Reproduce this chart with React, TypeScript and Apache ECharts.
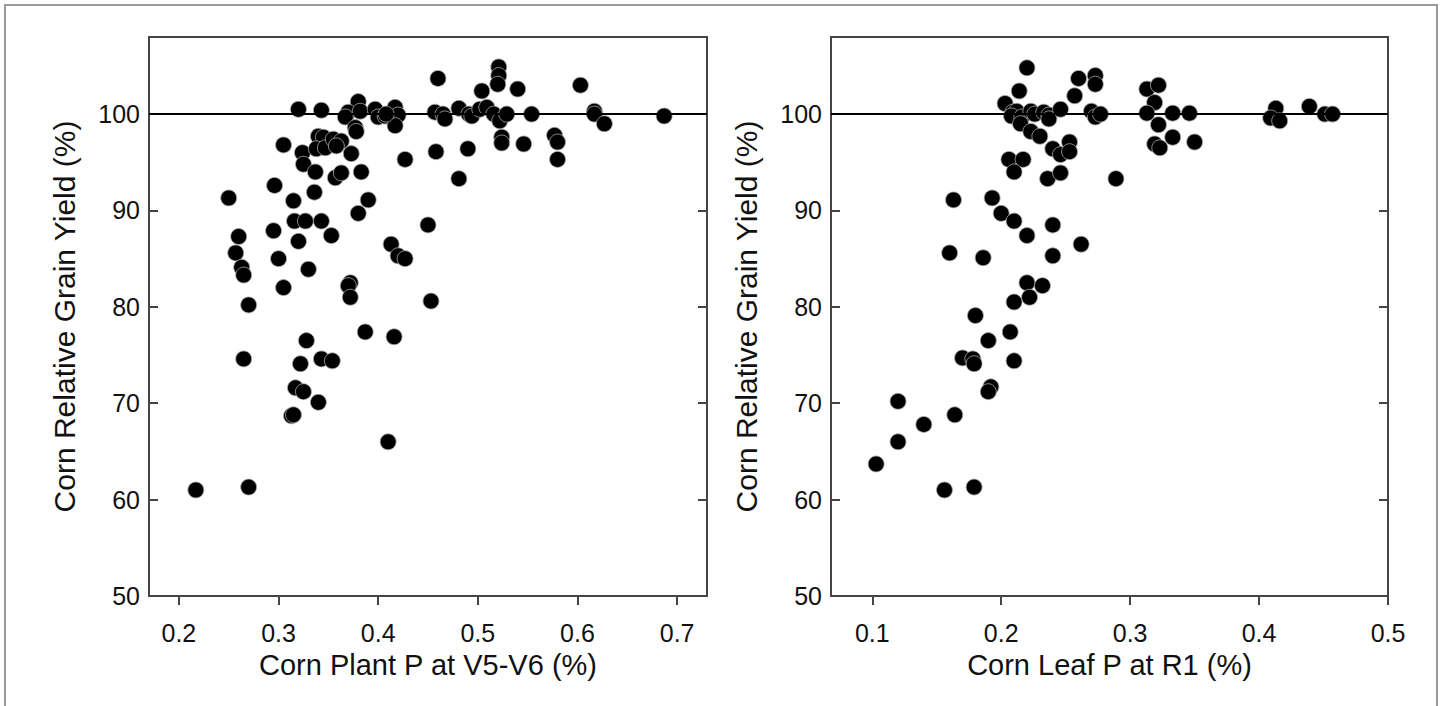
import React, { useEffect, useRef } from "react";
import * as echarts from "echarts";

// Left panel: Corn Plant P at V5-V6 (%) vs relative yield
const plantP: number[] = [
  0.460, 0.320, 0.343, 0.380, 0.370, 0.367, 0.382, 0.377, 0.378, 0.397,
  0.400, 0.407, 0.417, 0.420, 0.417, 0.408, 0.305, 0.324, 0.325, 0.337,
  0.340, 0.345, 0.338, 0.347, 0.355, 0.363, 0.358, 0.373, 0.357, 0.363,
  0.383, 0.427, 0.458, 0.296, 0.250, 0.315, 0.336, 0.390, 0.380, 0.316,
  0.327, 0.343, 0.450, 0.260, 0.295, 0.320, 0.353, 0.413, 0.257, 0.300,
  0.420, 0.427, 0.263, 0.265, 0.330, 0.372, 0.370, 0.372, 0.305, 0.270,
  0.453, 0.387, 0.416, 0.265, 0.328, 0.322, 0.343, 0.354, 0.317, 0.325,
  0.340, 0.313, 0.315, 0.410, 0.217, 0.270, 0.457, 0.465, 0.467, 0.481,
  0.491, 0.494, 0.504, 0.502, 0.509, 0.521, 0.521, 0.520, 0.516, 0.522,
  0.529, 0.524, 0.524, 0.540, 0.554, 0.546, 0.490, 0.481, 0.577, 0.580,
  0.580, 0.603, 0.617, 0.617, 0.627, 0.687,
];
const plantYield: number[] = [
  103.7, 100.5, 100.4, 101.3, 100.2, 99.7, 100.3, 98.6, 98.2, 100.5,
  99.7, 99.8, 100.7, 99.9, 98.8, 100.0, 96.8, 96.0, 94.8, 94.0,
  97.7, 97.6, 96.4, 96.5, 97.4, 97.2, 96.7, 95.9, 93.4, 93.9,
  94.0, 95.3, 96.1, 92.6, 91.3, 91.0, 91.9, 91.1, 89.7, 88.9,
  88.9, 88.9, 88.5, 87.3, 87.9, 86.8, 87.4, 86.5, 85.6, 85.0,
  85.3, 85.0, 84.1, 83.3, 83.9, 82.5, 82.2, 81.0, 82.0, 80.2,
  80.6, 77.4, 76.9, 74.6, 76.5, 74.1, 74.6, 74.4, 71.6, 71.2,
  70.1, 68.7, 68.8, 66.0, 61.0, 61.3, 100.2, 100.0, 99.5, 100.6,
  100.0, 99.8, 102.4, 100.5, 100.7, 104.9, 104.0, 103.1, 100.0, 99.3,
  100.0, 97.6, 97.0, 102.6, 100.0, 96.9, 96.4, 93.3, 97.8, 97.1,
  95.3, 103.0, 100.3, 100.0, 99.0, 99.8,
];

// Right panel: Corn Leaf P at R1 (%) vs relative yield
const leafP: number[] = [
  0.220, 0.214, 0.203, 0.209, 0.212, 0.208, 0.216, 0.215, 0.223, 0.226,
  0.223, 0.230, 0.233, 0.237, 0.237, 0.246, 0.257, 0.260, 0.273, 0.273,
  0.270, 0.273, 0.277, 0.240, 0.246, 0.253, 0.253, 0.206, 0.217, 0.210,
  0.236, 0.246, 0.289, 0.163, 0.193, 0.200, 0.210, 0.220, 0.240, 0.160,
  0.186, 0.240, 0.262, 0.220, 0.232, 0.222, 0.210, 0.180, 0.207, 0.190,
  0.170, 0.178, 0.179, 0.210, 0.192, 0.190, 0.120, 0.164, 0.140, 0.120,
  0.103, 0.156, 0.179, 0.313, 0.322, 0.319, 0.313, 0.333, 0.346, 0.322,
  0.333, 0.319, 0.323, 0.350, 0.413, 0.409, 0.416, 0.439, 0.451, 0.457,
];
const leafYield: number[] = [
  104.8, 102.4, 101.1, 100.2, 100.3, 99.8, 99.7, 99.0, 100.3, 100.0,
  98.2, 97.7, 100.2, 99.9, 99.5, 100.5, 101.9, 103.7, 104.0, 103.1,
  100.3, 99.7, 100.0, 96.4, 95.8, 97.1, 96.1, 95.3, 95.3, 94.0,
  93.3, 93.9, 93.3, 91.1, 91.3, 89.7, 88.9, 87.4, 88.5, 85.6,
  85.1, 85.3, 86.5, 82.5, 82.2, 81.0, 80.5, 79.1, 77.4, 76.5,
  74.7, 74.6, 74.1, 74.4, 71.7, 71.2, 70.2, 68.8, 67.8, 66.0,
  63.7, 61.0, 61.3, 102.6, 103.0, 101.2, 100.1, 100.1, 100.1, 98.9,
  97.6, 96.9, 96.5, 97.1, 100.6, 99.6, 99.3, 100.8, 100.0, 100.0,
];

const leftXTicks: number[] = [0.2, 0.3, 0.4, 0.5, 0.6, 0.7];
const rightXTicks: number[] = [0.1, 0.2, 0.3, 0.4, 0.5];
const yTicks: number[] = [50, 60, 70, 80, 90, 100];
const referenceYield = 100;

const leftXTitle = "Corn Plant P at V5-V6 (%)";
const rightXTitle = "Corn Leaf P at R1 (%)";
const yTitle = "Corn Relative Grain Yield (%)";

const FONT = "'Liberation Sans', Arial, Helvetica, sans-serif";

export default function App() {
  const ref = useRef<HTMLDivElement>(null);

  useEffect(() => {
    if (!ref.current) return;
    const chart = echarts.init(ref.current, undefined, { renderer: "svg" });

    const leftData = plantP.map((x, i) => [x, plantYield[i]]);
    const rightData = leafP.map((x, i) => [x, leafYield[i]]);

    const tickLabel = {
      fontFamily: FONT,
      fontSize: 25,
      color: "#111",
    };

    const xAxisBase = (gridIndex: number, min: number, max: number, ticks: number[], name: string) => ({
      type: "value",
      gridIndex,
      min,
      max,
      position: "bottom",
      name,
      nameLocation: "middle",
      nameGap: 54,
      nameTextStyle: { fontFamily: FONT, fontSize: 29, color: "#111" },
      axisLine: { show: true, onZero: false, lineStyle: { color: "#444", width: 2 } },
      axisTick: { show: true, inside: false, length: 9, customValues: ticks, lineStyle: { color: "#444", width: 2 } },
      axisLabel: { ...tickLabel, margin: 24, customValues: ticks, formatter: (v: number) => v.toFixed(1) },
      splitLine: { show: false },
    });

    const yAxisLeft = (gridIndex: number) => ({
      type: "value",
      gridIndex,
      min: 50,
      max: 108,
      position: "left",
      name: yTitle,
      nameLocation: "middle",
      nameGap: 70,
      nameTextStyle: { fontFamily: FONT, fontSize: 30, color: "#111" },
      axisLine: { show: true, onZero: false, lineStyle: { color: "#444", width: 2 } },
      axisTick: { show: true, inside: true, length: 9, customValues: yTicks, lineStyle: { color: "#444", width: 2 } },
      axisLabel: { ...tickLabel, margin: 9, customValues: yTicks },
      splitLine: { show: false },
    });

    const yAxisRight = (gridIndex: number) => ({
      type: "value",
      gridIndex,
      min: 50,
      max: 108,
      position: "right",
      axisLine: { show: true, onZero: false, lineStyle: { color: "#444", width: 2 } },
      axisTick: { show: true, inside: true, length: 9, customValues: yTicks, lineStyle: { color: "#444", width: 2 } },
      axisLabel: { show: false },
      splitLine: { show: false },
    });

    const xAxisTop = (gridIndex: number, min: number, max: number) => ({
      type: "value",
      gridIndex,
      min,
      max,
      position: "top",
      axisLine: { show: true, onZero: false, lineStyle: { color: "#444", width: 2 } },
      axisTick: { show: false },
      axisLabel: { show: false },
      splitLine: { show: false },
    });

    const markLine = {
      silent: true,
      symbol: "none",
      label: { show: false },
      lineStyle: { color: "#000", width: 2, type: "solid" },
      data: [{ yAxis: referenceYield }],
    };

    const scatterStyle = {
      symbol: "circle",
      symbolSize: 16,
      itemStyle: { color: "#000", borderColor: "#aaa", borderWidth: 0.8, opacity: 1 },
    };

    chart.setOption({
      animation: false,
      backgroundColor: "#fff",
      graphic: [
        {
          type: "rect",
          shape: { x: 5, y: 5, width: 1432, height: 720 },
          style: { fill: "none", stroke: "#999", lineWidth: 2 },
          silent: true,
        },
      ],
      grid: [
        { left: 149, top: 37, width: 558, height: 559 },
        { left: 831, top: 37, width: 557, height: 559 },
      ],
      xAxis: [
        xAxisBase(0, 0.17, 0.73, leftXTicks, leftXTitle),
        xAxisBase(1, 0.068, 0.5, rightXTicks, rightXTitle),
        xAxisTop(0, 0.17, 0.73),
        xAxisTop(1, 0.068, 0.5),
      ],
      yAxis: [yAxisLeft(0), yAxisRight(0), yAxisLeft(1), yAxisRight(1)],
      series: [
        {
          type: "scatter",
          xAxisIndex: 0,
          yAxisIndex: 0,
          data: leftData,
          ...scatterStyle,
          markLine,
          z: 3,
        },
        {
          type: "scatter",
          xAxisIndex: 1,
          yAxisIndex: 2,
          data: rightData,
          ...scatterStyle,
          markLine,
          z: 3,
        },
      ],
    });

    return () => chart.dispose();
  }, []);

  return (
    <div
      ref={ref}
      style={{ position: "fixed", left: 0, top: 0, width: 1443, height: 706, background: "#fff" }}
    />
  );
}
